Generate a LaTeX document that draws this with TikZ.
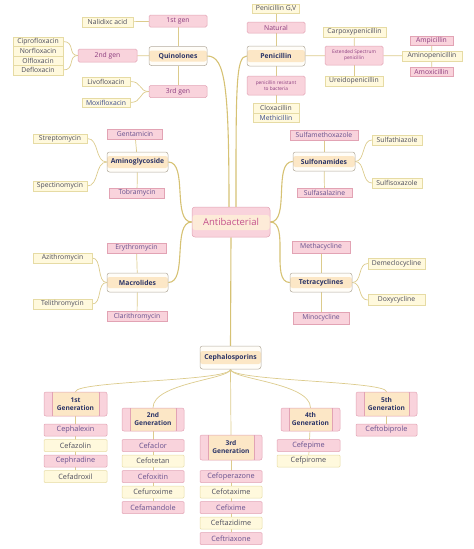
\documentclass[tikz,border=0pt]{standalone}
\usepackage{fontspec}
\setmainfont{Open Sans}
\usetikzlibrary{backgrounds}
\definecolor{pkF}{HTML}{F9D3DC}
\definecolor{pkD}{HTML}{E2A3B4}
\definecolor{pkT}{HTML}{66508E}
\definecolor{subT}{HTML}{8B3B7E}
\definecolor{ylF}{HTML}{FFF9DD}
\definecolor{ylD}{HTML}{E6DBA4}
\definecolor{ylT}{HTML}{4C4C5C}
\definecolor{blT}{HTML}{3A4A8A}
\definecolor{catD}{HTML}{B4AC9E}
\definecolor{catF}{HTML}{FFFDF8}
\definecolor{bandC}{HTML}{FCE7C6}
\definecolor{catT}{HTML}{2B3467}
\definecolor{lineC}{HTML}{DCCB8C}
\definecolor{mainC}{HTML}{D6C274}
\definecolor{antiT}{HTML}{C4508C}
\definecolor{antiB}{HTML}{FDEBD8}
\begin{document}
\begin{tikzpicture}[x=1pt,y=-1pt,
  box/.style={rectangle, inner sep=0pt, line width=0.5pt, align=center,
    font=\fontsize{6.8}{7.5}\selectfont},
  pk/.style={box, fill=pkF, draw=pkD, text=pkT},
  yl/.style={box, fill=ylF, draw=ylD, text=ylT},
  sub/.style={pk, rounded corners=1.5pt, text=subT},
  tiny/.style={font=\fontsize{4.8}{5.6}\selectfont},
  cat/.style={box, rounded corners=2.5pt, draw=catD, fill=catF, text=catT,
    font=\bfseries\fontsize{6.8}{7.5}\selectfont,
    path picture={\fill[bandC] ([yshift=-4pt]path picture bounding box.north west)
      rectangle ([yshift=4pt]path picture bounding box.south east);}},
  anti/.style={box, rounded corners=3pt, draw=pkD, fill=pkF, text=antiT,
    font=\fontsize{9.5}{10}\selectfont,
    path picture={\fill[antiB] ([yshift=-8pt]path picture bounding box.north west)
      rectangle ([yshift=7pt]path picture bounding box.south east);}},
  gen/.style={box, rounded corners=2pt, draw=pkD, fill=pkF, text=catT,
    font=\bfseries\fontsize{6.6}{8}\selectfont,
    path picture={\fill[bandC] ([xshift=8pt]path picture bounding box.north west)
      rectangle ([xshift=-8pt]path picture bounding box.south east);
      \draw[pkD, line width=0.4pt] ([xshift=8pt]path picture bounding box.north west)
      -- ([xshift=8pt]path picture bounding box.south west);
      \draw[pkD, line width=0.4pt] ([xshift=-8pt]path picture bounding box.north east)
      -- ([xshift=-8pt]path picture bounding box.south east);}},
  gpk/.style={pk, rounded corners=1pt, minimum height=12pt, font=\fontsize{7.3}{8}\selectfont},
  gyl/.style={yl, rounded corners=1pt, minimum height=12pt, font=\fontsize{7.3}{8}\selectfont},
  conn/.style={draw=lineC, line width=0.7pt},
  main/.style={draw=mainC, line width=1.1pt}
]
\useasboundingbox (0,0) rectangle (474,549);

% ---------- Quinolones ----------
\node[sub, minimum width=58pt, minimum height=12pt] (q1) at (178,21) {1st gen};
\node[yl, minimum width=51pt, minimum height=10pt] (nal) at (107.5,22) {Nalidixc acid};
\node[cat, minimum width=58pt, minimum height=19pt] (quin) at (178,56) {Quinolones};
\node[sub, minimum width=59pt, minimum height=13pt] (q2) at (107.5,55.5) {2nd gen};
\node[yl, minimum width=50pt, minimum height=9.5pt] (cip) at (38,41.5) {Ciprofloxacin};
\node[yl, minimum width=50pt, minimum height=9.5pt] (nor) at (38,51) {Norfloxacin};
\node[yl, minimum width=50pt, minimum height=9.5pt] (olf) at (38,60.5) {Olfloxacin};
\node[yl, minimum width=50pt, minimum height=9.5pt] (def) at (38,70) {Defloxacin};
\node[sub, minimum width=58pt, minimum height=12pt] (q3) at (178,91.5) {3rd gen};
\node[yl, minimum width=48pt, minimum height=9pt] (liv) at (106,81.5) {Livofloxacin};
\node[yl, minimum width=48pt, minimum height=9pt, text=blT] (mox) at (106,102.5) {Moxifloxacin};

% ---------- Penicillin ----------
\node[yl, minimum width=47pt, minimum height=9pt] (pgv) at (276,8.5) {Penicillin G,V};
\node[sub, minimum width=58pt, minimum height=11pt] (nat) at (276,27.5) {Natural};
\node[cat, minimum width=58pt, minimum height=20pt] (pen) at (276,56) {Penicillin};
\node[sub, tiny, minimum width=58pt, minimum height=19pt] (res) at (276,85.5) {penicillin resistant\\to bacteria};
\node[yl, minimum width=46pt, minimum height=9.5pt] (clox) at (276,108) {Cloxacillin};
\node[yl, minimum width=46pt, minimum height=9.5pt, text=blT] (meth) at (276,117.5) {Methicillin};
\node[sub, tiny, minimum width=58pt, minimum height=19pt] (ext) at (354,55.5) {Extended Spectrum\\penicillin};
\node[yl, minimum width=63pt, minimum height=10pt] (carp) at (354.5,32) {Carpoxypenicillin};
\node[yl, minimum width=58pt, minimum height=10pt] (ure) at (354,81) {Ureidopenicillin};
\node[yl, minimum width=60pt, minimum height=10pt] (amino) at (432,56) {Aminopenicillin};
\node[pk, minimum width=43pt, minimum height=9pt, text=subT] (amp) at (431.5,40.5) {Ampicillin};
\node[pk, minimum width=43pt, minimum height=9pt, text=subT] (amox) at (431.5,71.5) {Amoxicillin};

% ---------- Aminoglycoside ----------
\node[yl, minimum width=54pt, minimum height=9.5pt] (strep) at (60,138.5) {Streptomycin};
\node[pk, minimum width=55pt, minimum height=9.5pt] (gent) at (135,134) {Gentamicin};
\node[cat, minimum width=61pt, minimum height=20pt] (amg) at (137.5,162) {Aminoglycoside};
\node[yl, minimum width=54pt, minimum height=10pt] (spec) at (60,186) {Spectinomycin};
\node[pk, minimum width=55pt, minimum height=9.5pt] (tobra) at (137,193) {Tobramycin};

% ---------- Sulfonamides ----------
\node[pk, minimum width=68pt, minimum height=10pt] (smx) at (324,135) {Sulfamethoxazole};
\node[cat, minimum width=62pt, minimum height=19pt] (sulf) at (324,161.5) {Sulfonamides};
\node[yl, minimum width=50pt, minimum height=10pt] (sthz) at (397,140) {Sulfathiazole};
\node[yl, minimum width=50pt, minimum height=10pt] (sisx) at (397,183) {Sulfisoxazole};
\node[pk, minimum width=55pt, minimum height=9pt] (ssz) at (324.5,192.5) {Sulfasalazine};

% ---------- Antibacterial ----------
\node[anti, minimum width=78pt, minimum height=30pt] (ab) at (231,222) {Antibacterial};

% ---------- Macrolides ----------
\node[pk, minimum width=59pt, minimum height=10pt] (ery) at (136.5,248) {Erythromycin};
\node[yl, minimum width=59pt, minimum height=10pt] (azi) at (62.5,258) {Azithromycin};
\node[cat, minimum width=61pt, minimum height=19pt] (mac) at (137.5,282.5) {Macrolides};
\node[yl, minimum width=59pt, minimum height=10pt] (teli) at (62.5,304) {Telithromycin};
\node[pk, minimum width=60pt, minimum height=10pt] (clar) at (137,316.5) {Clarithromycin};

% ---------- Tetracyclines ----------
\node[pk, minimum width=58pt, minimum height=12pt] (methc) at (321,247) {Methacycline};
\node[cat, minimum width=62pt, minimum height=19pt] (tet) at (321,282.5) {Tetracyclines};
\node[yl, minimum width=57pt, minimum height=11pt] (deme) at (396.5,263.5) {Demeclocycline};
\node[yl, minimum width=57pt, minimum height=11pt] (doxy) at (396.5,300) {Doxycycline};
\node[pk, minimum width=56pt, minimum height=12pt] (mino) at (321,318) {Minocycline};

% ---------- Cephalosporins ----------
\node[cat, minimum width=61pt, minimum height=23pt,
  path picture={\fill[bandC] ([yshift=-5pt]path picture bounding box.north west)
      rectangle ([yshift=5pt]path picture bounding box.south east);}] (ceph) at (230.5,357.5) {Cephalosporins};

\node[gen, minimum width=63pt, minimum height=24pt] (g1) at (75.5,404) {1st\\Generation};
\node[gen, minimum width=62pt, minimum height=23pt] (g2) at (153,419.5) {2nd\\Generation};
\node[gen, minimum width=62pt, minimum height=25pt] (g3) at (231,447.5) {3rd\\Generation};
\node[gen, minimum width=59pt, minimum height=23pt] (g4) at (310.5,419.5) {4th\\Generation};
\node[gen, minimum width=61pt, minimum height=24pt] (g5) at (386.5,404) {5th\\Generation};

\node[gpk, minimum width=63pt] (c11) at (75.5,430) {Cephalexin};
\node[gyl, minimum width=63pt] (c12) at (75.5,445.5) {Cefazolin};
\node[gpk, minimum width=63pt] (c13) at (75.5,461) {Cephradine};
\node[gyl, minimum width=63pt] (c14) at (75.5,476.5) {Cefadroxil};

\node[gpk, minimum width=62pt] (c21) at (153,445.5) {Cefaclor};
\node[gyl, minimum width=62pt] (c22) at (153,461) {Cefotetan};
\node[gpk, minimum width=62pt] (c23) at (153,476.5) {Cefoxitin};
\node[gyl, minimum width=62pt] (c24) at (153,492) {Cefuroxime};
\node[gpk, minimum width=62pt] (c25) at (153,507.5) {Cefamandole};

\node[gpk, minimum width=62pt] (c31) at (231,476.5) {Cefoperazone};
\node[gyl, minimum width=62pt] (c32) at (231,492) {Cefotaxime};
\node[gpk, minimum width=62pt] (c33) at (231,507.5) {Cefixime};
\node[gyl, minimum width=62pt] (c34) at (231,523) {Ceftazidime};
\node[gpk, minimum width=62pt] (c35) at (231,538.5) {Ceftriaxone};

\node[gpk, minimum width=63pt] (c41) at (308.5,445.5) {Cefepime};
\node[gyl, minimum width=63pt] (c42) at (308.5,461) {Cefpirome};

\node[gpk, minimum width=61pt] (c51) at (386.5,430) {Ceftobiprole};

% ---------- connectors ----------
\begin{scope}[on background layer]
  \draw[conn] (nal) -- (q1);
  \draw[conn] (q1) -- (quin);
  \draw[conn] (quin) -- (q3);
  \draw[conn] (q2) -- (quin);
  \draw[conn] (cip.east) .. controls +(12,0) and +(-10,0) .. (q2.west);
  \draw[conn] (def.east) .. controls +(12,0) and +(-10,0) .. (q2.west);
  \draw[conn] (liv.east) .. controls +(12,0) and +(-10,0) .. (q3.west);
  \draw[conn] (mox.east) .. controls +(12,0) and +(-10,0) .. (q3.west);

  \draw[conn] (pgv) -- (nat);
  \draw[conn] (nat) -- (pen);
  \draw[conn] (pen) -- (res);
  \draw[conn] (res) -- (clox);
  \draw[conn] (pen) -- (ext);
  \draw[conn] (carp) -- (ext);
  \draw[conn] (ext) -- (ure);
  \draw[conn] (ext) -- (amino);
  \draw[conn] (amp) -- (amino);
  \draw[conn] (amino) -- (amox);

  \draw[conn] (gent) -- (amg);
  \draw[conn] (amg) -- (tobra);
  \draw[conn] (strep.east) .. controls +(12,0) and +(-12,0) .. (amg.west);
  \draw[conn] (spec.east) .. controls +(12,0) and +(-12,0) .. (amg.west);

  \draw[conn] (smx) -- (sulf);
  \draw[conn] (sulf) -- (ssz);
  \draw[conn] (sulf.east) .. controls +(10,0) and +(-10,0) .. (sthz.west);
  \draw[conn] (sulf.east) .. controls +(10,0) and +(-10,0) .. (sisx.west);

  \draw[conn] (ery) -- (mac);
  \draw[conn] (mac) -- (clar);
  \draw[conn] (azi.east) .. controls +(10,0) and +(-10,0) .. (mac.west);
  \draw[conn] (teli.east) .. controls +(10,0) and +(-10,0) .. (mac.west);

  \draw[conn] (methc) -- (tet);
  \draw[conn] (tet) -- (mino);
  \draw[conn] (tet.east) .. controls +(10,0) and +(-10,0) .. (deme.west);
  \draw[conn] (tet.east) .. controls +(10,0) and +(-10,0) .. (doxy.west);

  \draw[main] (quin.east) .. controls +(18,0) and +(0,-120) .. ([xshift=-2pt]ab.north);
  \draw[main] (pen.west) .. controls +(-11,0) and +(0,-120) .. ([xshift=5pt]ab.north);
  \draw[main] (amg.east) .. controls +(20,0) and +(-20,0) .. (ab.west);
  \draw[main] (mac.east) .. controls +(20,0) and +(-20,0) .. (ab.west);
  \draw[main] (sulf.west) .. controls +(-20,0) and +(20,0) .. (ab.east);
  \draw[main] (tet.west) .. controls +(-20,0) and +(20,0) .. (ab.east);
  \draw[main] (ab.south) -- (ceph.north);

  \draw[conn] (ceph.south) .. controls +(0,12) and +(0,-11) .. (g1.north);
  \draw[conn] (ceph.south) .. controls +(0,10) and +(0,-25) .. (g2.north);
  \draw[conn] (ceph.south) -- (g3.north);
  \draw[conn] (ceph.south) .. controls +(0,10) and +(0,-25) .. (g4.north);
  \draw[conn] (ceph.south) .. controls +(0,12) and +(0,-11) .. (g5.north);

  \draw[conn] (g1) -- (c14);
  \draw[conn] (g2) -- (c25);
  \draw[conn] (g3) -- (c35);
  \draw[conn] (g4) -- (c42);
  \draw[conn] (g5) -- (c51);
\end{scope}
\end{tikzpicture}
\end{document}
